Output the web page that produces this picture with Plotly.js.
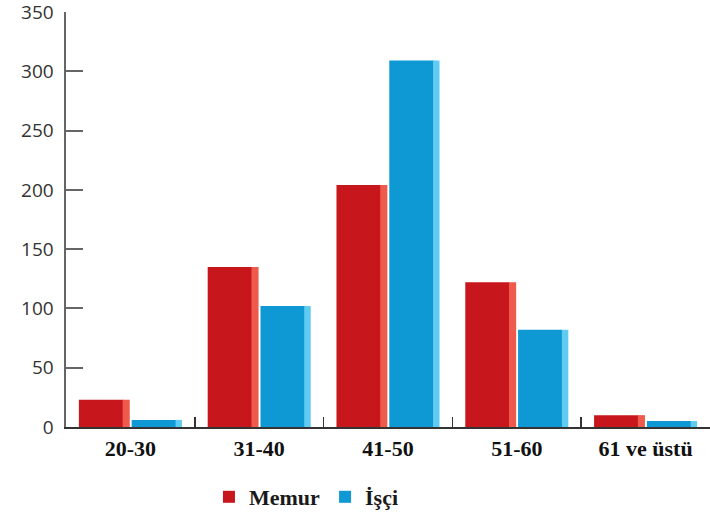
<!DOCTYPE html>
<html>
<head>
<meta charset="utf-8">
<script src="https://cdn.plot.ly/plotly-3.0.1.min.js"></script>
<style>html,body{margin:0;padding:0;background:#fff;}#chart{width:710px;height:518px;}</style>
</head>
<body>
<div id="chart"></div>
<script>
const categories = ["20-30", "31-40", "41-50", "51-60", "61 ve üstü"];
const memur = [23, 135, 204, 122, 10];
const isci = [6, 102, 309, 82, 5];
const seriesNames = ["Memur", "İşçi"];
const yTicks = [0, 50, 100, 150, 200, 250, 300, 350];

const red = "#c8161d", redSide = "#ee5a4c";
const blue = "#0e98d4", blueSide = "#5fcaf2";

function bar(vals, name, color, offset, width, legend) {
  return {
    type: "bar", x: categories, y: vals, name: name,
    offset: offset, width: width,
    marker: {color: color, line: {width: 0}},
    showlegend: legend, hoverinfo: legend ? "x+y+name" : "skip"
  };
}

const data = [
  bar(memur, seriesNames[0], red, -0.40, 0.345, true),
  bar(memur, seriesNames[0], redSide, -0.06, 0.055, false),
  bar(isci, seriesNames[1], blue, 0.01, 0.345, true),
  bar(isci, seriesNames[1], blueSide, 0.35, 0.05, false)
];

const layout = {
  width: 710, height: 518,
  margin: {l: 66, r: 0, t: 12, b: 91},
  paper_bgcolor: "#fff", plot_bgcolor: "#fff",
  barmode: "overlay",
  showlegend: true,
  legend: {
    orientation: "h", x: 0.222, xanchor: "left", y: -0.169, yanchor: "middle",
    font: {family: "Liberation Serif", size: 22, color: "#1a1a1a", weight: "bold"},
    itemwidth: 30, tracegroupgap: 0
  },
  xaxis: {
    type: "category",
    range: [-0.5, 4.5],
    showline: true, linecolor: "#333", linewidth: 2,
    ticks: "inside", tickson: "boundaries", ticklen: 10, tickcolor: "#333", tickwidth: 1.5,
    tickfont: {family: "Liberation Serif", size: 22, color: "#111", weight: "bold"},
    showgrid: false, zeroline: false,
    ticklabelstandoff: 1
  },
  yaxis: {
    range: [0, 350],
    tickvals: yTicks, ticktext: yTicks.map(String),
    ticklabeloverflow: "allow",
    showline: true, linecolor: "#666", linewidth: 2.5,
    ticks: "inside", ticklen: 17, tickcolor: "#666", tickwidth: 2,
    tickfont: {family: "Open Sans", size: 19, color: "#333"},
    showgrid: false, zeroline: false,
    ticklabelstandoff: 6
  }
};

Plotly.newPlot("chart", data, layout, {displayModeBar: false, staticPlot: true});
</script>
</body>
</html>
